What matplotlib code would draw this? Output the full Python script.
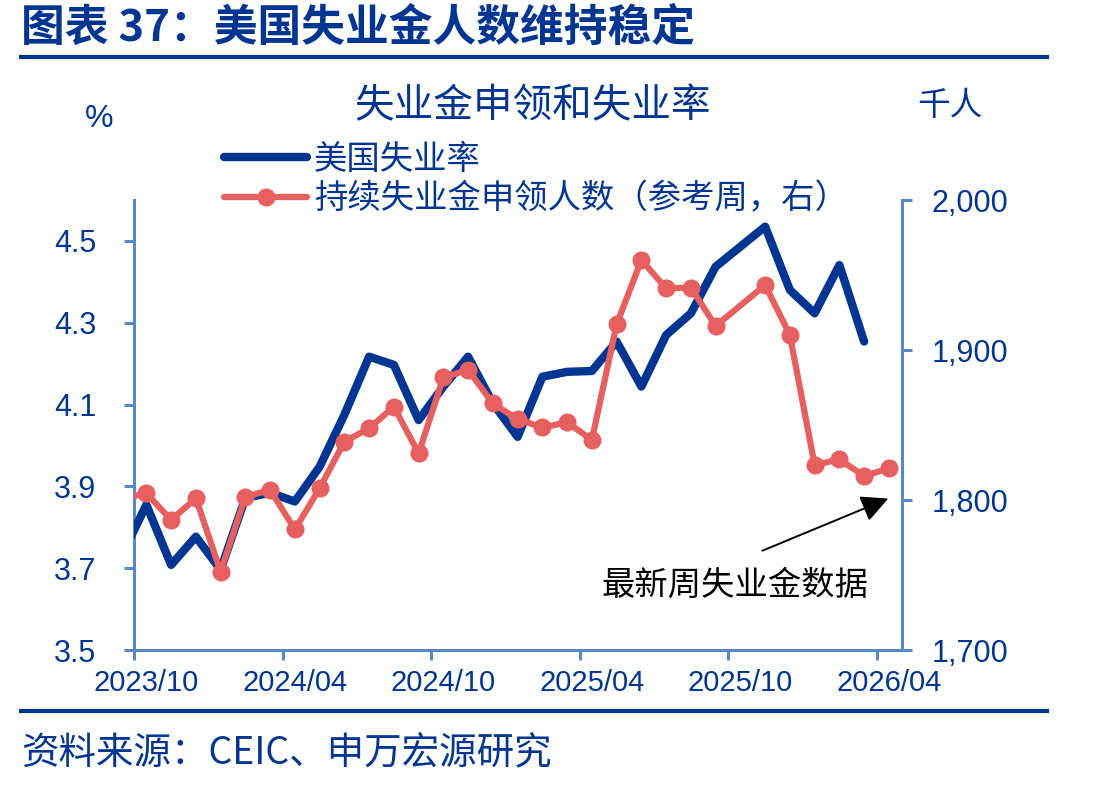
import matplotlib
matplotlib.use('Agg')
import matplotlib.pyplot as plt
import numpy as np
from matplotlib.lines import Line2D
from matplotlib.font_manager import FontProperties

# ---------------- data ----------------
months = ['2023/09', '2023/10', '2023/11', '2023/12',
          '2024/01', '2024/02', '2024/03', '2024/04', '2024/05', '2024/06',
          '2024/07', '2024/08', '2024/09', '2024/10', '2024/11', '2024/12',
          '2025/01', '2025/02', '2025/03', '2025/04', '2025/05', '2025/06',
          '2025/07', '2025/08', '2025/09', '2025/10', '2025/11', '2025/12',
          '2026/01', '2026/02', '2026/03', '2026/04']

# US unemployment rate, % (left axis); None = no observation
unemp_rate = [3.73, 3.855, 3.708, 3.777,
              3.696, 3.872, 3.884, 3.863, 3.948, 4.075,
              4.217, 4.197, 4.062, 4.144, 4.217, 4.103,
              4.021, 4.168, 4.180, 4.182, 4.254, 4.144,
              4.270, 4.323, 4.437, None, 4.535, 4.380,
              4.323, 4.441, 4.254, None]

# continuing claims, reference week, thousand persons (right axis)
claims = [1800.8, 1804.5, 1786.7, 1801.1,
          1752.2, 1802.2, 1806.7, 1780.4, 1807.8, 1838.9,
          1847.8, 1862.2, 1831.1, 1881.8, 1886.7, 1864.4,
          1853.8, 1848.4, 1851.8, 1840.0, 1917.1, 1960.0,
          1941.1, 1941.6, 1916.0, None, 1943.3, 1910.0,
          1823.3, 1827.1, 1816.0, 1821.1]

tick_labels = ['2023/10', '2024/04', '2024/10', '2025/04', '2025/10', '2026/04']
left_ticks = [3.5, 3.7, 3.9, 4.1, 4.3, 4.5]
right_ticks = [1700, 1800, 1900, 2000]

series_names = ['美国失业率', '持续失业金申领人数（参考周，右）']
fig_title = '图表 37：美国失业金人数维持稳定'
chart_title = '失业金申领和失业率'
source_text = '资料来源：CEIC、申万宏源研究'
note_text = '最新周失业金数据'

# ---------------- style ----------------
NAVY = '#003591'
RED = '#E5605F'
SPINE = '#5A87C5'
CJK = ['Noto Sans CJK SC', 'DejaVu Sans']
NUM = ['Liberation Sans', 'Noto Sans CJK SC']

W, H = 1095, 787
fig = plt.figure(figsize=(W / 100, H / 100), dpi=100)
fig.patch.set_facecolor('white')

ax = fig.add_axes([134 / W, 1 - 650 / H, (902 - 134) / W, 450 / H])
ax2 = ax.twinx()

# month start positions (2023/10 = 0) and mid-month data positions
start = np.arange(len(months)) - months.index('2023/10')
xpos = start + 0.5


def clean(vals):
    a = np.array([np.nan if v is None else v for v in vals], dtype=float)
    m = ~np.isnan(a)
    return xpos[m], a[m]


bx, by = clean(unemp_rate)
rx, ry = clean(claims)

ax.plot(bx, by, color=NAVY, lw=6, solid_capstyle='round', solid_joinstyle='round', zorder=3)
ax2.plot(rx, ry, color=RED, lw=4.5, marker='o', markersize=13, markeredgewidth=0,
         solid_capstyle='round', solid_joinstyle='round', zorder=4)

ax.set_xlim(0, 31.03)
ax.set_ylim(3.5, 4.6)
ax2.set_ylim(1700, 2000)

# tick marks at month starts, labels centred within the month
tick_idx = [months.index(t) for t in tick_labels]
ax.set_xticks([start[i] for i in tick_idx])
ax.set_xticklabels([''] * len(tick_idx))
ax.set_xticks([xpos[i] for i in tick_idx], minor=True)
ax.set_xticklabels(tick_labels, minor=True)
ax.set_yticks(left_ticks)
ax.set_yticklabels([f'{v:.1f}' for v in left_ticks])
ax2.set_yticks(right_ticks)
ax2.set_yticklabels([f'{v:,}' for v in right_ticks])

for a in (ax, ax2):
    a.spines['top'].set_visible(False)
    for s in ('left', 'right', 'bottom'):
        a.spines[s].set_color(SPINE)
        a.spines[s].set_linewidth(2.2)
    a.tick_params(axis='both', colors=SPINE, width=2.2, length=7, direction='out')
ax.spines['right'].set_visible(False)
ax2.spines['left'].set_visible(False)
ax2.spines['bottom'].set_visible(False)

ax.tick_params(axis='y', pad=20, labelcolor=NAVY)
ax.tick_params(axis='x', which='minor', length=0, pad=14, labelcolor=NAVY)
ax2.tick_params(axis='y', pad=14, labelcolor=NAVY)
for lab in ax.get_yticklabels():
    lab.set_fontfamily(NUM); lab.set_fontsize(22)
for lab in ax.get_xticklabels(minor=True):
    lab.set_fontfamily(NUM); lab.set_fontsize(21)
for lab in ax2.get_yticklabels():
    lab.set_fontfamily(NUM); lab.set_fontsize(22)

# annotation arrow
ax2.annotate('', xy=(30.48, 1801), xytext=(25.39, 1766.2),
             arrowprops=dict(arrowstyle='-|>,head_length=0.83,head_width=0.41',
                             color='black', lw=1.4, mutation_scale=20,
                             shrinkA=0, shrinkB=0))
ax2.text(24.3, 1743.3, note_text, family=CJK, fontsize=24, color='black',
         ha='center', va='center')

# figure texts
fig.text(21 / W, 1 - 28 / H, fig_title, family=CJK, fontsize=31.5, fontweight='bold',
         color=NAVY, ha='left', va='center')
fig.add_artist(Line2D([21 / W, 1047 / W], [1 - 57 / H, 1 - 57 / H], color=NAVY, lw=3))
fig.add_artist(Line2D([21 / W, 1047 / W], [1 - 711 / H, 1 - 711 / H], color=NAVY, lw=3))
fig.text(21 / W, 1 - 754 / H, source_text, family=CJK, fontsize=27, color=NAVY,
         ha='left', va='center')

fig.text(533 / W, 1 - 106 / H, chart_title, family=CJK, fontsize=28.5, color=NAVY,
         ha='center', va='center')
fig.text(99 / W, 1 - 119 / H, '%', family=NUM, fontsize=23, color=NAVY,
         ha='center', va='center')
fig.text(950 / W, 1 - 106 / H, '千人', family=CJK, fontsize=23.5, color=NAVY,
         ha='center', va='center')

handles = [Line2D([], [], color=NAVY, lw=6, solid_capstyle='round'),
           Line2D([], [], color=RED, lw=4.5, marker='o', markersize=13,
                  markeredgewidth=0, solid_capstyle='round')]
fig.legend(handles, series_names, loc='upper left', bbox_to_anchor=(224 / W, 1 - 142 / H),
           frameon=False, prop=FontProperties(family=CJK, size=24), labelcolor=NAVY,
           handlelength=2.5, handletextpad=0.2, labelspacing=0.13, borderpad=0,
           borderaxespad=0)

fig.savefig('out.png', dpi=100, facecolor='white')
